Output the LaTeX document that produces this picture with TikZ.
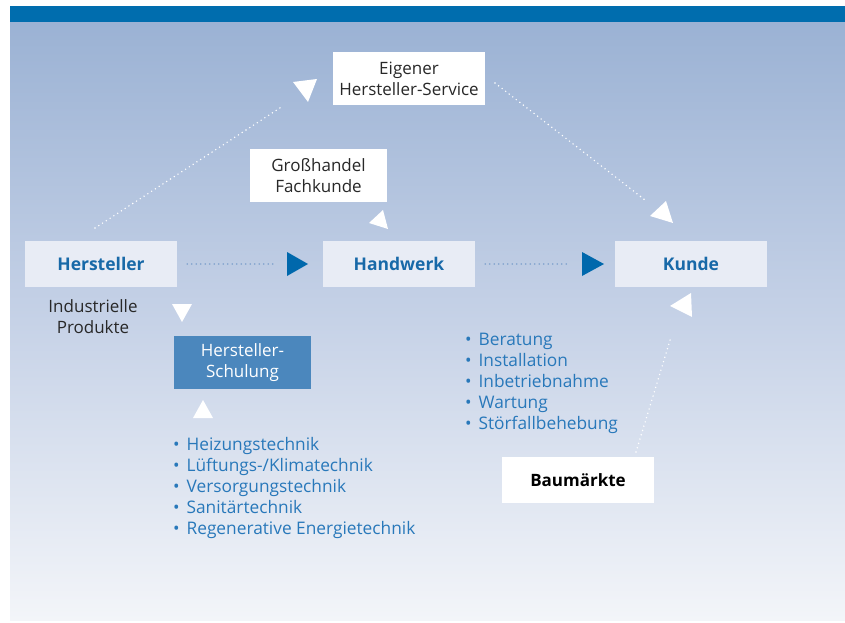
\documentclass[tikz,border=0pt]{standalone}
\usepackage{fontspec}
\setmainfont{Open Sans}
\usetikzlibrary{calc}
\definecolor{barblue}{RGB}{0,109,174}
\definecolor{bgtop}{RGB}{155,178,212}
\definecolor{bgmid}{RGB}{198,210,231}
\definecolor{bgbot}{RGB}{243,245,249}
\definecolor{boxfill}{RGB}{232,236,245}
\definecolor{boldblue}{RGB}{24,105,168}
\definecolor{listblue}{RGB}{40,120,186}
\definecolor{schulfill}{RGB}{75,135,189}
\definecolor{tipblue}{RGB}{0,104,172}
\definecolor{dotblue}{RGB}{125,160,205}
\definecolor{darktext}{RGB}{40,40,40}
\tikzset{
  mainbox/.style={fill=boxfill, minimum width=152pt, minimum height=46pt, font=\fontsize{17.5}{20}\selectfont\bfseries, text=boldblue, inner sep=0pt},
  whitebox/.style={fill=white, inner sep=0pt, font=\fontsize{17}{21}\selectfont, text=darktext, align=center},
  bluedots/.style={dotblue, line width=1.6pt, dash pattern=on 0pt off 4.5pt, line cap=round},
  whitedots/.style={white, line width=1.6pt, dash pattern=on 0pt off 4.5pt, line cap=round},
  listtext/.style={font=\fontsize{17.3}{21}\selectfont, text=listblue, align=left, anchor=north west, inner sep=0pt},
}
\begin{document}
\begin{tikzpicture}[x=1pt,y=-1pt]
\useasboundingbox (0,0) rectangle (845,623);
\fill[white] (0,0) rectangle (845,623);
\shade[top color=bgtop, bottom color=bgbot, middle color=bgmid] (10,22) rectangle (845,620);
\fill[barblue] (10,6) rectangle (845,22);

% main nodes
\node[mainbox] (hersteller) at (101,264) {Hersteller};
\node[mainbox] (handwerk) at (399,264) {Handwerk};
\node[mainbox] (kunde) at (691,264) {Kunde};
\node[whitebox, minimum width=152pt, minimum height=53pt] (service) at (409,79) {Eigener\\Hersteller-Service};
\node[whitebox, minimum width=137pt, minimum height=53pt] (grosshandel) at (318.5,175.5) {Großhandel\\Fachkunde};
\node[fill=schulfill, minimum width=137pt, minimum height=53pt, inner sep=0pt, font=\fontsize{17}{21}\selectfont, text=white, align=center] (schulung) at (242.5,362.5) {Hersteller-\\Schulung};
\node[whitebox, minimum width=152pt, minimum height=46pt, font=\fontsize{17}{20}\selectfont\bfseries, text=black] (baumarkt) at (578,480) {Baumärkte};

\node[font=\fontsize{17}{21}\selectfont, text=darktext, align=center, inner sep=0pt] (industrie) at (93,317) {Industrielle\\Produkte};

\node[listtext] (list1) at (173,437) {•\hspace{0.4em}Heizungstechnik\\•\hspace{0.4em}Lüftungs-/Klimatechnik\\•\hspace{0.4em}Versorgungstechnik\\•\hspace{0.4em}Sanitärtechnik\\•\hspace{0.4em}Regenerative Energietechnik};
\node[listtext] (list2) at (465,333) {•\hspace{0.4em}Beratung\\•\hspace{0.4em}Installation\\•\hspace{0.4em}Inbetriebnahme\\•\hspace{0.4em}Wartung\\•\hspace{0.4em}Störfallbehebung};

% horizontal connectors
\draw[bluedots] ([xshift=10pt]hersteller.east) -- ([xshift=-48pt]handwerk.west);
\fill[tipblue] (287,252) -- (308,264) -- (287,276) -- cycle;
\draw[bluedots] ([xshift=10pt]handwerk.east) -- ([xshift=-47pt]kunde.west);
\fill[tipblue] (582,252) -- (604,264) -- (582,276) -- cycle;

% diagonal connectors
\coordinate (h1) at (95,228);
\coordinate (h2) at (283,106);
\draw[whitedots] (h1) -- (h2);
\fill[white] (293,82) -- (317,79) -- (308,102) -- cycle;

\coordinate (s1) at (495,83);
\coordinate (s2) at (645,200);
\draw[whitedots] (s1) -- (s2);
\fill[white] (650,216) -- (666,201) -- (673,223) -- cycle;

\fill[white] (369,223) -- (383,210) -- (388,229) -- cycle;

\fill[white] (172,304) -- (192,304) -- (182,322) -- cycle;
\fill[white] (193,418) -- (213,418) -- (203,400) -- cycle;

\coordinate (b1) at (636,452);
\coordinate (b2) at (671,337);
\draw[whitedots] (b1) -- (b2);
\fill[white] (670,306) -- (691,293) -- (692,317) -- cycle;
\end{tikzpicture}
\end{document}
